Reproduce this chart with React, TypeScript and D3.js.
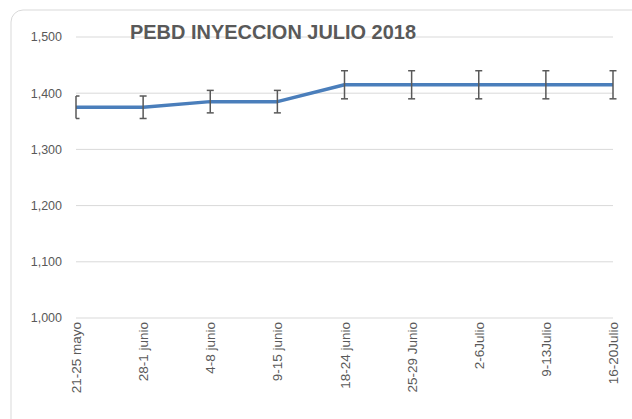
import React from "react";
import * as d3 from "d3";

const weeks = [
  "21-25 mayo",
  "28-1 junio",
  "4-8 junio",
  "9-15 junio",
  "18-24 junio",
  "25-29 Junio",
  "2-6Julio",
  "9-13Julio",
  "16-20Julio",
];
const prices = [1375, 1375, 1385, 1385, 1415, 1415, 1415, 1415, 1415];
const errors = [20, 20, 20, 20, 25, 25, 25, 25, 25];
const yTicks = [1000, 1100, 1200, 1300, 1400, 1500];

const W = 632;
const H = 419;
const margin = { left: 76, right: 19, top: 37, bottom: 101 };

const App: React.FC = () => {
  const x = d3
    .scalePoint<string>()
    .domain(weeks)
    .range([margin.left, W - margin.right]);
  const y = d3
    .scaleLinear()
    .domain([1000, 1500])
    .range([H - margin.bottom, margin.top]);

  const line = d3
    .line<number>()
    .x((_, i) => x(weeks[i]) as number)
    .y((d) => y(d));

  const gray = "#595959";
  const font = "'Liberation Sans', Arial, sans-serif";

  return (
    <svg
      width={W}
      height={H}
      style={{ position: "absolute", left: 0, top: 0, background: "#fff" }}
    >
      <rect
        x={11}
        y={10}
        width={W + 20}
        height={H + 20}
        rx={12}
        fill="#fff"
        stroke="#d9d9d9"
        strokeWidth={1}
      />
      {yTicks.map((t) => (
        <g key={t}>
          <line
            x1={margin.left}
            x2={W - margin.right}
            y1={y(t)}
            y2={y(t)}
            stroke="#d9d9d9"
            strokeWidth={1}
          />
          <text
            x={62}
            y={y(t)}
            dy="0.35em"
            textAnchor="end"
            fontFamily={font}
            fontSize={12.5}
            fill={gray}
          >
            {d3.format(",")(t)}
          </text>
        </g>
      ))}
      <text
        x={130}
        y={39}
        textLength={286}
        lengthAdjust="spacingAndGlyphs"
        fontFamily={font}
        fontWeight="bold"
        fontSize={20}
        fill={gray}
      >
        PEBD INYECCION JULIO 2018
      </text>
      {weeks.map((w) => (
        <text
          key={w}
          transform={`translate(${(x(w) as number) + 5},${y(1000) + 4}) rotate(-90)`}
          textAnchor="end"
          fontFamily={font}
          fontSize={13.5}
          fill={gray}
        >
          {w}
        </text>
      ))}
      <path
        d={line(prices) || ""}
        fill="none"
        stroke="#4a7ebb"
        strokeWidth={3.5}
        strokeLinejoin="round"
      />
      {prices.map((p, i) => {
        const cx = x(weeks[i]) as number;
        const top = y(p + errors[i]);
        const bot = y(p - errors[i]);
        const capL = i === 0 ? cx : cx - 3.5;
        return (
          <g key={i} stroke={gray} strokeWidth={1.5}>
            <line x1={cx} x2={cx} y1={top} y2={bot} />
            <line x1={capL} x2={cx + 3.5} y1={top} y2={top} />
            <line x1={capL} x2={cx + 3.5} y1={bot} y2={bot} />
          </g>
        );
      })}
    </svg>
  );
};

export default App;
